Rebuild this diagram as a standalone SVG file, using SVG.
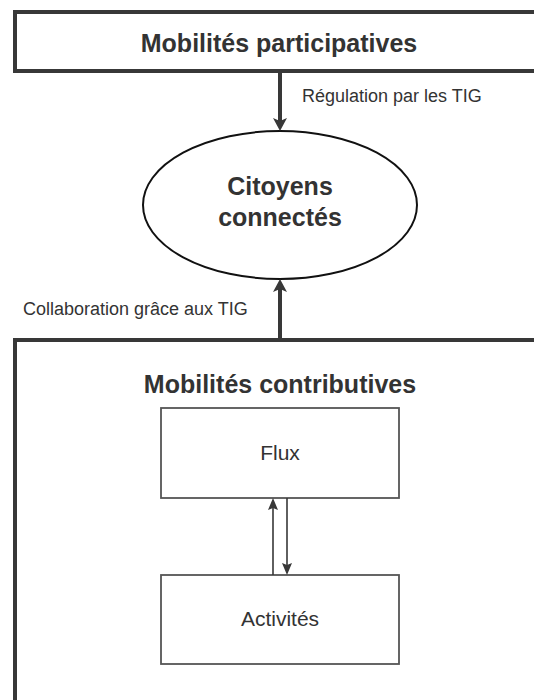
<svg xmlns="http://www.w3.org/2000/svg" width="534" height="700" viewBox="0 0 534 700">
<style>
.main{fill:#fff;stroke:#383838;stroke-width:4}
.inner{fill:#fff;stroke:#555;stroke-width:1.8}
.title{font-family:"Liberation Sans",Arial,sans-serif;font-weight:bold;font-size:25px;fill:#333;text-anchor:middle}
.lbl{font-family:"Liberation Sans",Arial,sans-serif;font-size:18px;fill:#333}
.node{font-family:"Liberation Sans",Arial,sans-serif;font-size:21px;fill:#333;text-anchor:middle}
.thick{stroke:#383838;stroke-width:4;fill:none}
.thin{stroke:#383838;stroke-width:1.6;fill:none}
.head{fill:#383838;stroke:none}
</style>
<rect width="534" height="700" fill="#fff"/>
<g id="participatives">
<rect class="main" x="15" y="12" width="540" height="59"/>
<text class="title" x="279" y="52">Mobilités participatives</text>
</g>
<g id="contributives">
<rect class="main" x="15" y="340" width="540" height="400"/>
<text class="title" x="280" y="393">Mobilités contributives</text>
</g>
<g id="citoyens">
<ellipse cx="280" cy="205" rx="137" ry="74" fill="#fff" stroke="#111" stroke-width="2"/>
<text class="title" x="280" y="195">Citoyens</text>
<text class="title" x="280" y="226">connectés</text>
</g>
<g id="flux">
<rect class="inner" x="161" y="408" width="238" height="90"/>
<text class="node" x="280" y="460">Flux</text>
</g>
<g id="activites">
<rect class="inner" x="161" y="575" width="238" height="89"/>
<text class="node" x="280" y="626">Activités</text>
</g>
<g id="connectors">
<line class="thick" x1="280" y1="71" x2="280" y2="124"/>
<path class="head" d="M280,131 L273,118 L280,121 L287,118 Z"/>
<text class="lbl" x="302" y="102">Régulation par les TIG</text>
<line class="thick" x1="280" y1="340" x2="280" y2="286"/>
<path class="head" d="M280,279 L273,292 L280,289 L287,292 Z"/>
<text class="lbl" x="23" y="315">Collaboration grâce aux TIG</text>
<line class="thin" x1="273" y1="575" x2="273" y2="506"/>
<path class="head" d="M273,498 L268,510 L273,508 L278,510 Z"/>
<line class="thin" x1="287" y1="498" x2="287" y2="567"/>
<path class="head" d="M287,575 L282,563 L287,565 L292,563 Z"/>
</g>
</svg>
